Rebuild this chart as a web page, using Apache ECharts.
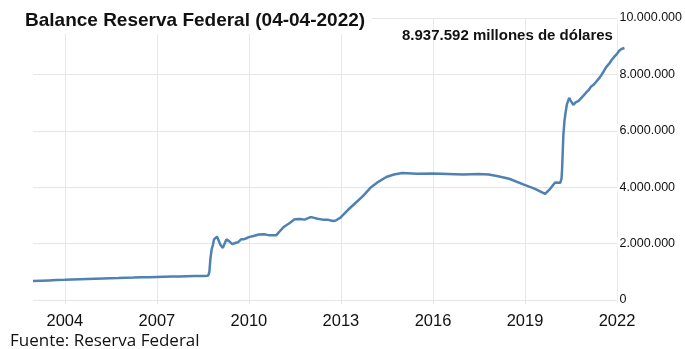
<!DOCTYPE html>
<html>
<head>
<meta charset="utf-8">
<script src="https://cdn.jsdelivr.net/npm/echarts@6/dist/echarts.min.js"></script>
<style>
  html, body { margin: 0; padding: 0; background: #fff; }
  #chart { width: 685px; height: 349px; }
</style>
</head>
<body>
<div id="chart"></div>
<script>
// Balance de la Reserva Federal, millones de dólares
var dates = [
  '2002-12-18', '2003-03-26', '2003-06-25', '2003-09-24', '2003-12-31',
  '2004-03-31', '2004-06-30', '2004-09-29', '2004-12-29',
  '2005-03-30', '2005-06-29', '2005-09-28', '2005-12-28',
  '2006-03-29', '2006-06-28', '2006-09-27', '2006-12-27',
  '2007-03-28', '2007-06-27', '2007-09-26', '2007-12-26',
  '2008-03-26', '2008-06-25', '2008-09-03', '2008-09-17', '2008-09-24',
  '2008-10-01', '2008-10-15', '2008-10-29', '2008-11-12', '2008-11-26',
  '2008-12-17', '2008-12-31',
  '2009-01-14', '2009-01-28', '2009-02-11', '2009-02-25', '2009-03-11',
  '2009-03-25', '2009-04-08', '2009-04-22', '2009-05-13', '2009-06-03',
  '2009-06-17', '2009-07-08', '2009-07-29', '2009-08-26', '2009-09-30',
  '2009-10-28', '2009-11-25', '2009-12-30',
  '2010-02-24', '2010-04-28', '2010-06-30', '2010-08-25', '2010-10-27',
  '2010-11-24', '2010-12-29',
  '2011-02-23', '2011-04-27', '2011-06-29', '2011-08-31', '2011-10-26',
  '2011-12-28',
  '2012-01-25', '2012-03-28', '2012-05-30', '2012-07-25', '2012-09-26',
  '2012-10-31', '2012-12-26',
  '2013-03-27', '2013-06-26', '2013-09-25', '2013-12-25',
  '2014-03-26', '2014-06-25', '2014-09-24', '2014-12-31',
  '2015-06-24', '2015-12-30', '2016-06-29', '2016-12-28',
  '2017-06-28', '2017-10-25', '2018-01-31', '2018-06-27', '2018-12-26',
  '2019-04-24', '2019-08-28', '2019-09-11', '2019-10-30', '2019-12-25',
  '2020-02-26', '2020-03-11', '2020-03-18', '2020-03-25', '2020-04-01',
  '2020-04-15', '2020-04-29', '2020-05-13', '2020-06-10', '2020-06-24',
  '2020-07-29', '2020-08-26', '2020-09-30', '2020-10-28', '2020-11-25',
  '2020-12-30',
  '2021-01-27', '2021-02-24', '2021-03-31', '2021-04-28', '2021-05-26',
  '2021-06-30', '2021-07-28', '2021-08-25', '2021-09-29', '2021-10-27',
  '2021-11-24', '2021-12-29',
  '2022-01-26', '2022-02-23', '2022-03-30'
];
var balance = [
  670000, 685000, 695000, 705000, 715000,
  725000, 735000, 745000, 755000,
  765000, 775000, 780000, 790000,
  795000, 805000, 810000, 820000,
  825000, 830000, 835000, 845000,
  850000, 855000, 860000, 1000000, 1250000,
  1500000, 1800000, 1950000, 2150000, 2100000,
  2250000, 2200000,
  2050000, 1950000, 1880000, 1850000, 1950000,
  2050000, 2150000, 2120000, 2080000, 2050000,
  1980000, 2050000, 2030000, 2050000, 2150000,
  2150000, 2180000, 2230000,
  2270000, 2320000, 2330000, 2300000, 2300000,
  2300000, 2420000,
  2600000, 2720000, 2860000, 2870000, 2850000,
  2930000,
  2930000, 2880000, 2850000, 2850000, 2800000,
  2820000, 2920000,
  3200000, 3450000, 3700000, 4000000,
  4200000, 4360000, 4450000, 4500000,
  4480000, 4490000, 4470000, 4450000,
  4470000, 4450000, 4400000, 4300000, 4080000,
  3950000, 3760000, 3760000, 3950000, 4170000,
  4160000, 4310000, 4670000, 5250000, 5810000,
  6370000, 6660000, 6930000, 7170000, 7090000,
  6920000, 7010000, 7060000, 7150000, 7240000,
  7360000,
  7440000, 7560000, 7640000, 7740000, 7840000,
  7980000, 8120000, 8260000, 8380000, 8500000,
  8610000, 8720000,
  8840000, 8900000, 8937592
];
var yearTicks = [2004, 2007, 2010, 2013, 2016, 2019, 2022];

var titleText = 'Balance Reserva Federal (04-04-2022)';
var noteText = '8.937.592 millones de dólares';
var sourceText = 'Fuente: Reserva Federal';

function thousands(v) {
  return String(v).replace(/\B(?=(\d{3})+(?!\d))/g, '.');
}

// fecha -> año decimal
function toYear(d) {
  var p = d.split('-');
  var y = +p[0];
  var t = Date.UTC(y, +p[1] - 1, +p[2]);
  var t0 = Date.UTC(y, 0, 1), t1 = Date.UTC(y + 1, 0, 1);
  return y + (t - t0) / (t1 - t0);
}

var chart = echarts.init(document.getElementById('chart'));

chart.setOption({
  animation: false,
  grid: { left: 33, right: 59, top: 18, bottom: 49, containLabel: false },
  xAxis: {
    type: 'value',
    min: toYear(dates[0]),
    max: toYear(dates[dates.length - 1]),
    axisLine: { show: false },
    axisTick: { show: true, length: 4, customValues: yearTicks, lineStyle: { color: '#e2e2e2' } },
    splitLine: { show: true, lineStyle: { color: '#e8e8e8', width: 1 } },
    axisLabel: {
      customValues: yearTicks,
      margin: 13,
      color: '#111',
      fontSize: 16.5,
      fontFamily: "'Liberation Sans', Arial, sans-serif",
      formatter: function (v) { return String(Math.round(v)); }
    }
  },
  yAxis: {
    type: 'value',
    position: 'right',
    min: 0,
    max: 10000000,
    interval: 2000000,
    axisLine: { show: false },
    axisTick: { show: false },
    splitLine: { lineStyle: { color: '#e6e6e6', width: 1 } },
    axisLabel: {
      margin: -7,
      align: 'left',
      color: '#111',
      fontSize: 12.5,
      fontFamily: "'Liberation Sans', Arial, sans-serif",
      backgroundColor: '#fff',
      padding: [0, 0, 0, 2],
      formatter: function (v) { return thousands(v); }
    }
  },
  graphic: [
    {
      type: 'rect', shape: { x: 18, y: 6, width: 354, height: 28 },
      style: { fill: '#fff' }, z: 10
    },
    {
      type: 'text', x: 25, y: 20.5, z: 11,
      style: { text: titleText, fill: '#111', align: 'left', verticalAlign: 'middle',
        font: "bold 19px 'Liberation Sans', Arial, sans-serif" }
    },
    {
      type: 'text', x: 402, y: 35.5, z: 11,
      style: { text: noteText, fill: '#111', align: 'left', verticalAlign: 'middle',
        font: "bold 15px 'Liberation Sans', Arial, sans-serif" }
    },
    {
      type: 'text', x: 10, y: 341.5, z: 11,
      style: { text: sourceText, fill: '#111', align: 'left', verticalAlign: 'middle',
        font: "17px 'Open Sans', 'Noto Sans', sans-serif" }
    }
  ],
  series: [{
    type: 'line',
    showSymbol: false,
    symbol: 'none',
    data: dates.map(function (d, i) { return [toYear(d), balance[i]]; }),
    lineStyle: { color: '#4f81b3', width: 2.5 },
    z: 3
  }]
});
</script>
</body>
</html>
